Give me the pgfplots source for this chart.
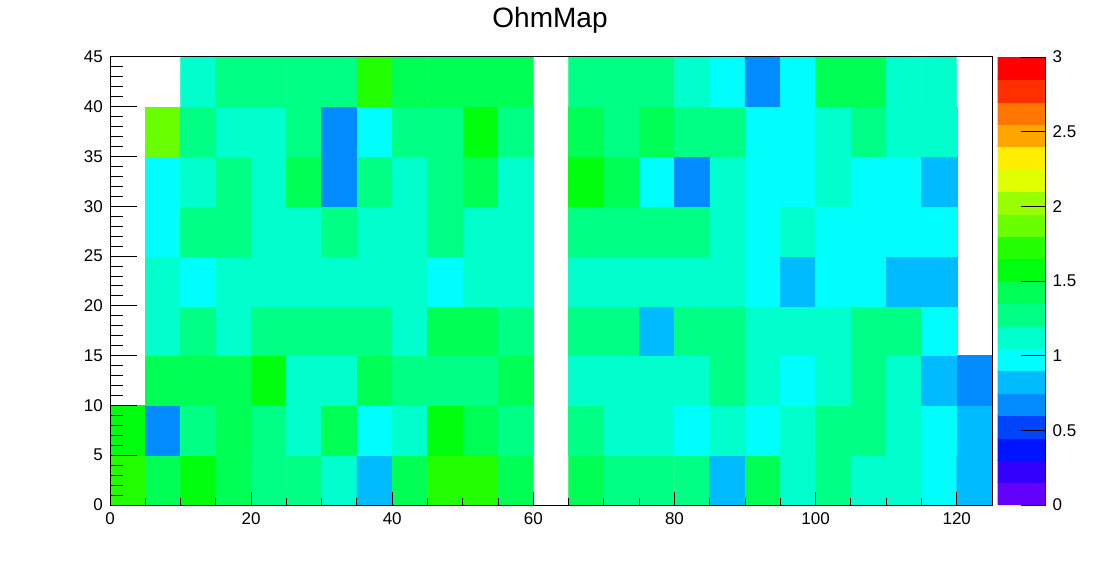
\documentclass[border=0pt]{standalone}
\usepackage{fontspec}
\setmainfont{Liberation Sans}
\usepackage{pgfplots}
\pgfplotsset{compat=1.18}
\pgfplotsset{
  colormap={ohm}{
    rgb255=(99,0,255) rgb255=(51,0,255) rgb255=(0,20,255) rgb255=(0,68,255)
    rgb255=(0,139,255) rgb255=(0,187,255) rgb255=(0,255,252) rgb255=(0,255,204)
    rgb255=(0,255,133) rgb255=(0,255,85) rgb255=(0,255,14) rgb255=(34,255,0)
    rgb255=(105,255,0) rgb255=(153,255,0) rgb255=(224,255,0) rgb255=(255,238,0)
    rgb255=(255,167,0) rgb255=(255,119,0) rgb255=(255,48,0) rgb255=(255,0,0)
  }
}
\begin{document}
\begin{tikzpicture}
\path[use as bounding box] (-110pt,-57pt) rectangle (992pt,505pt);
\begin{axis}[
  name=main,
  at={(0pt,0pt)}, anchor=south west,
  scale only axis, width=882pt, height=448pt,
  xmin=0, xmax=125, ymin=0, ymax=45,
  enlargelimits=false,
  axis on top,
  axis line style={line width=1pt},
  xtick={0,20,...,120}, minor x tick num=3,
  ytick={0,5,...,45}, minor y tick num=4,
  tick align=inside, xtick pos=left, ytick pos=left,
  every tick/.append style={line width=1pt, black},
  every major x tick/.append style={/pgfplots/major tick length=13.4pt},
  every minor x tick/.append style={/pgfplots/minor tick length=6.7pt},
  every major y tick/.append style={/pgfplots/major tick length=26.5pt},
  every minor y tick/.append style={/pgfplots/minor tick length=13.2pt},
  /pgf/number format/assume math mode=true,
  tick label style={font=\fontsize{17}{20}\selectfont},
  xticklabel style={inner sep=0pt, yshift=-7pt},
  yticklabel style={inner sep=0pt, xshift=-7pt},
  colormap name=ohm,
  colormap access=piecewise constant,
  point meta min=0, point meta max=3,
  colorbar sampled,
  colorbar/width=48pt,
  colorbar style={
    at={(parent axis.north east)}, anchor=north west, xshift=-3pt,
    scale only axis, width=48pt, height=448pt,
    axis on top,
    samples=21,
    ymin=0, ymax=3,
    ytick={0,0.5,...,3}, minor y tick num=0,
    ytick pos=right, yticklabel pos=right,
    tick align=inside,
    major tick length=25pt,
    every major y tick/.append style={/pgfplots/major tick length=25pt},
    every tick/.append style={line width=1pt, black},
    axis line style={draw=none},
    /pgf/number format/assume math mode=true,
    tick label style={font=\fontsize{17}{20}\selectfont},
    yticklabel style={inner sep=0pt, xshift=7pt, anchor=west},
    extra description/.code={\draw[line width=1pt] (rel axis cs:1,0) -- (rel axis cs:1,1);},
  },
]
\addplot[matrix plot*, mesh/cols=25, point meta=explicit, unbounded coords=jump] table[meta=v] {
x y v
2.5 2.5 1.725
7.5 2.5 1.425
12.5 2.5 1.575
17.5 2.5 1.425
22.5 2.5 1.275
27.5 2.5 1.275
32.5 2.5 1.125
37.5 2.5 0.825
42.5 2.5 1.425
47.5 2.5 1.725
52.5 2.5 1.725
57.5 2.5 1.425
62.5 2.5 nan
67.5 2.5 1.425
72.5 2.5 1.275
77.5 2.5 1.275
82.5 2.5 1.275
87.5 2.5 0.825
92.5 2.5 1.425
97.5 2.5 1.125
102.5 2.5 1.275
107.5 2.5 1.125
112.5 2.5 1.125
117.5 2.5 0.975
122.5 2.5 0.825
2.5 7.5 1.575
7.5 7.5 0.675
12.5 7.5 1.275
17.5 7.5 1.425
22.5 7.5 1.275
27.5 7.5 1.125
32.5 7.5 1.425
37.5 7.5 0.975
42.5 7.5 1.125
47.5 7.5 1.575
52.5 7.5 1.425
57.5 7.5 1.275
62.5 7.5 nan
67.5 7.5 1.275
72.5 7.5 1.125
77.5 7.5 1.125
82.5 7.5 0.975
87.5 7.5 1.125
92.5 7.5 0.975
97.5 7.5 1.125
102.5 7.5 1.275
107.5 7.5 1.275
112.5 7.5 1.125
117.5 7.5 0.975
122.5 7.5 0.825
2.5 12.5 nan
7.5 12.5 1.425
12.5 12.5 1.425
17.5 12.5 1.425
22.5 12.5 1.575
27.5 12.5 1.125
32.5 12.5 1.125
37.5 12.5 1.425
42.5 12.5 1.275
47.5 12.5 1.275
52.5 12.5 1.275
57.5 12.5 1.425
62.5 12.5 nan
67.5 12.5 1.125
72.5 12.5 1.125
77.5 12.5 1.125
82.5 12.5 1.125
87.5 12.5 1.275
92.5 12.5 1.125
97.5 12.5 0.975
102.5 12.5 1.125
107.5 12.5 1.275
112.5 12.5 1.125
117.5 12.5 0.825
122.5 12.5 0.675
2.5 17.5 nan
7.5 17.5 1.125
12.5 17.5 1.275
17.5 17.5 1.125
22.5 17.5 1.275
27.5 17.5 1.275
32.5 17.5 1.275
37.5 17.5 1.275
42.5 17.5 1.125
47.5 17.5 1.425
52.5 17.5 1.425
57.5 17.5 1.275
62.5 17.5 nan
67.5 17.5 1.275
72.5 17.5 1.275
77.5 17.5 0.825
82.5 17.5 1.275
87.5 17.5 1.275
92.5 17.5 1.125
97.5 17.5 1.125
102.5 17.5 1.125
107.5 17.5 1.275
112.5 17.5 1.275
117.5 17.5 0.975
122.5 17.5 nan
2.5 22.5 nan
7.5 22.5 1.125
12.5 22.5 0.975
17.5 22.5 1.125
22.5 22.5 1.125
27.5 22.5 1.125
32.5 22.5 1.125
37.5 22.5 1.125
42.5 22.5 1.125
47.5 22.5 0.975
52.5 22.5 1.125
57.5 22.5 1.125
62.5 22.5 nan
67.5 22.5 1.125
72.5 22.5 1.125
77.5 22.5 1.125
82.5 22.5 1.125
87.5 22.5 1.125
92.5 22.5 0.975
97.5 22.5 0.825
102.5 22.5 0.975
107.5 22.5 0.975
112.5 22.5 0.825
117.5 22.5 0.825
122.5 22.5 nan
2.5 27.5 nan
7.5 27.5 0.975
12.5 27.5 1.275
17.5 27.5 1.275
22.5 27.5 1.125
27.5 27.5 1.125
32.5 27.5 1.275
37.5 27.5 1.125
42.5 27.5 1.125
47.5 27.5 1.275
52.5 27.5 1.125
57.5 27.5 1.125
62.5 27.5 nan
67.5 27.5 1.275
72.5 27.5 1.275
77.5 27.5 1.275
82.5 27.5 1.275
87.5 27.5 1.125
92.5 27.5 0.975
97.5 27.5 1.125
102.5 27.5 0.975
107.5 27.5 0.975
112.5 27.5 0.975
117.5 27.5 0.975
122.5 27.5 nan
2.5 32.5 nan
7.5 32.5 0.975
12.5 32.5 1.125
17.5 32.5 1.275
22.5 32.5 1.125
27.5 32.5 1.425
32.5 32.5 0.675
37.5 32.5 1.275
42.5 32.5 1.125
47.5 32.5 1.275
52.5 32.5 1.425
57.5 32.5 1.125
62.5 32.5 nan
67.5 32.5 1.575
72.5 32.5 1.425
77.5 32.5 0.975
82.5 32.5 0.675
87.5 32.5 1.125
92.5 32.5 0.975
97.5 32.5 0.975
102.5 32.5 1.125
107.5 32.5 0.975
112.5 32.5 0.975
117.5 32.5 0.825
122.5 32.5 nan
2.5 37.5 nan
7.5 37.5 1.875
12.5 37.5 1.275
17.5 37.5 1.125
22.5 37.5 1.125
27.5 37.5 1.275
32.5 37.5 0.675
37.5 37.5 0.975
42.5 37.5 1.275
47.5 37.5 1.275
52.5 37.5 1.575
57.5 37.5 1.275
62.5 37.5 nan
67.5 37.5 1.425
72.5 37.5 1.275
77.5 37.5 1.425
82.5 37.5 1.275
87.5 37.5 1.275
92.5 37.5 0.975
97.5 37.5 0.975
102.5 37.5 1.125
107.5 37.5 1.275
112.5 37.5 1.125
117.5 37.5 1.125
122.5 37.5 nan
2.5 42.5 nan
7.5 42.5 nan
12.5 42.5 1.125
17.5 42.5 1.275
22.5 42.5 1.275
27.5 42.5 1.275
32.5 42.5 1.275
37.5 42.5 1.725
42.5 42.5 1.425
47.5 42.5 1.425
52.5 42.5 1.425
57.5 42.5 1.425
62.5 42.5 nan
67.5 42.5 1.275
72.5 42.5 1.275
77.5 42.5 1.275
82.5 42.5 1.125
87.5 42.5 0.975
92.5 42.5 0.675
97.5 42.5 0.975
102.5 42.5 1.425
107.5 42.5 1.425
112.5 42.5 1.125
117.5 42.5 1.125
122.5 42.5 nan
};
\end{axis}
\node[anchor=base, font=\fontsize{28}{32}\selectfont, inner sep=0pt] at (440pt,477pt) {OhmMap};
\end{tikzpicture}
\end{document}
